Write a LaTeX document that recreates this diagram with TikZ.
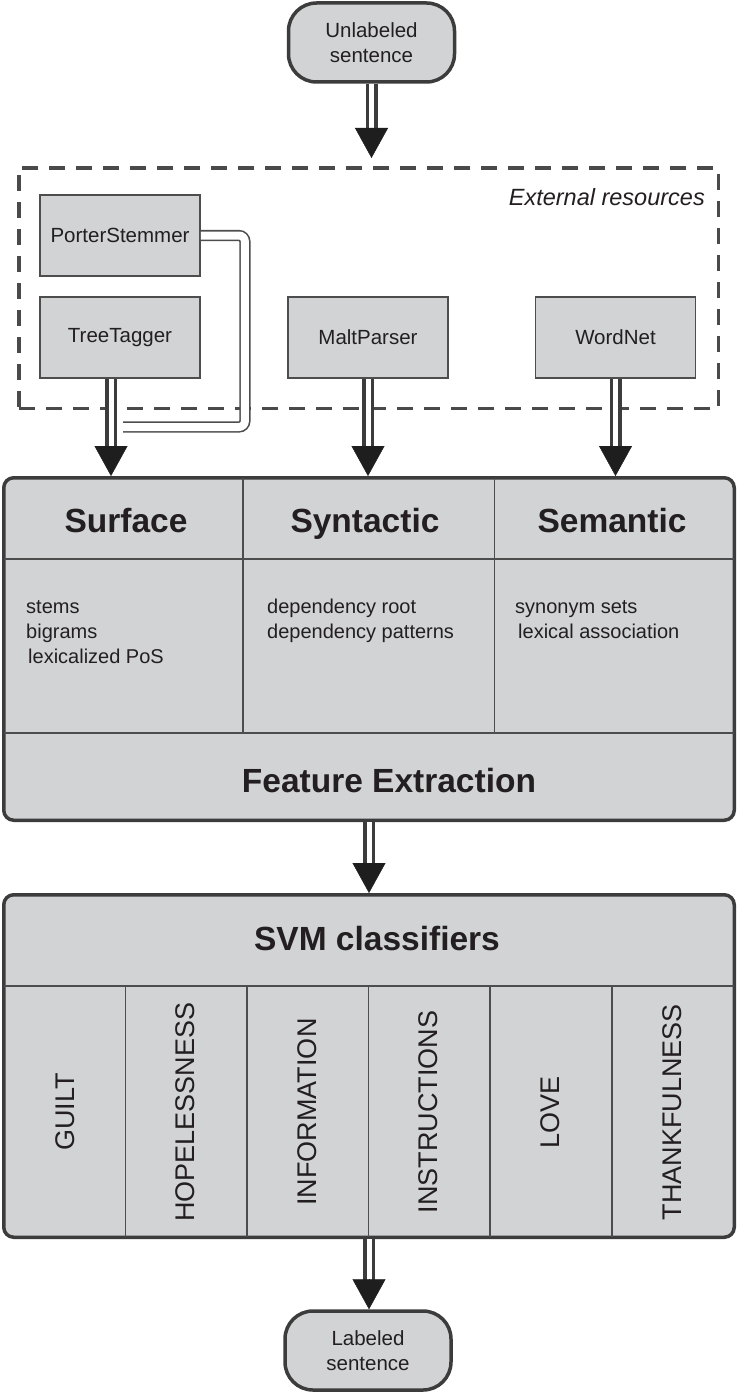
\documentclass[tikz,border=0pt]{standalone}
\usepackage{fontspec}
\setmainfont{Liberation Sans}
\usetikzlibrary{arrows.meta,calc}
\definecolor{boxfill}{HTML}{D1D3D4}
\definecolor{linec}{HTML}{3C3C3C}
\definecolor{thinc}{HTML}{4D4D4D}
\definecolor{txt}{HTML}{231F20}
\definecolor{tipc}{HTML}{1E1E1E}
\definecolor{dashc}{HTML}{4A4A4A}
\newcommand\fsz[2]{\fontsize{#1}{#2}\selectfont}
\tikzset{
  term/.style={draw=linec, line width=3.5pt, fill=boxfill, rounded corners=28pt,
    minimum width=166pt, minimum height=79pt, align=center, text=txt,
    font=\fsz{20.5}{24.5}, inner sep=0pt},
  res/.style={draw=thinc, line width=1.8pt, fill=boxfill, minimum width=160pt,
    minimum height=81pt, text=txt, font=\fsz{20.5}{24}, inner sep=0pt},
  big/.style={draw=linec, line width=3.5pt, fill=boxfill, rounded corners=10pt,
    minimum width=730.5pt, minimum height=342.5pt, inner sep=0pt},
  extbox/.style={draw=dashc, line width=3.5pt, dash pattern=on 16pt off 11pt,
    minimum width=699.5pt, minimum height=240.5pt, inner sep=0pt},
  div/.style={draw=thinc, line width=1.6pt},
  head/.style={font=\bfseries\fsz{33.5}{40}, text=txt, inner sep=0pt, anchor=base},
  item/.style={font=\fsz{20}{24}, text=txt, inner sep=0pt, anchor=base west},
  cls/.style={font=\fsz{27}{32}, text=txt, inner sep=0pt, rotate=90},
  dbl/.style={draw=linec, line width=3.5pt, double=white, double distance=5pt,
    shorten >=28pt},
  tipst/.style={-{Triangle[width=33pt,length=30pt]}, line width=0.4pt, draw=tipc,
    fill=tipc},
  pline/.style={draw=thinc, line width=1.6pt, double=white, double distance=8pt,
    rounded corners=6pt},
}
\begin{document}
\begin{tikzpicture}[x=1pt,y=-1pt]
\useasboundingbox[fill=white] (0,0) rectangle (738,1394);

% external resources dashed box
\node[extbox] (ext) at (368.5,288) {};
\node[font=\itshape\fsz{23.5}{28}, text=txt, inner sep=0pt, anchor=base east]
  (extlbl) at (705,205) {External resources};

% terminals
\node[term] (us) at (371.5,42.5) {Unlabeled\\sentence};
\node[term] (lab) at (368,1350.5) {Labeled\\sentence};

% resources
\node[res] (ps) at (120,235.5) {PorterStemmer};
\node[res] (tt) at (120,337.5) {TreeTagger};
\node[res] (mp) at (368,337.5) {MaltParser};
\node[res] (wn) at (615.5,337.5) {WordNet};

% feature extraction box
\node[big] (fe) at (369,649) {};
\draw[div] (4,559) -- (734,559);
\draw[div] (4,733) -- (734,733);
\draw[div] (243,478) -- (243,733);
\draw[div] (494.6,478) -- (494.6,733);
\node[head] (hsurf) at (126,532) {Surface};
\node[head] (hsyn) at (365,532) {Syntactic};
\node[head] (hsem) at (612,532) {Semantic};
\node[item] (i1) at (26,613) {stems};
\node[item] (i2) at (26,638) {bigrams};
\node[item] (i3) at (28,663) {lexicalized PoS};
\node[item] (i4) at (267,613) {dependency root};
\node[item] (i5) at (267,638) {dependency patterns};
\node[item] (i6) at (515,613) {synonym sets};
\node[item] (i7) at (518,638) {lexical association};
\node[head] (hfe) at (389,792) {Feature Extraction};

% SVM box
\node[big] (sv) at (369,1066) {};
\draw[div] (4,986) -- (734,986);
\foreach \xx in {125.6,247,368.5,490,612} {
  \draw[div] (\xx,986) -- (\xx,1237);
}
\node[head] (hsv) at (377,950) {SVM classifiers};
\node[cls] (c1) at (65,1112) {GUILT};
\node[cls] (c2) at (185,1112) {HOPELESSNESS};
\node[cls] (c3) at (307,1112) {INFORMATION};
\node[cls] (c4) at (428,1112) {INSTRUCTIONS};
\node[cls] (c5) at (550,1112) {LOVE};
\node[cls] (c6) at (672,1112) {THANKFULNESS};

% helper coordinates
\coordinate (extTop) at ([yshift=8pt]ext.north);
\coordinate (ta) at ([xshift=-9pt]tt.south);
\coordinate (tr) at ([xshift=6pt]tt.south);
\coordinate (jy) at (0,427);
\coordinate (join) at ([xshift=-3pt]tr |- jy);

% PorterStemmer connector
\draw[pline] (ps.east) -- ++(44,0) |- (join);

% arrows
\draw[dbl] (us.south) -- (us.south |- extTop);
\draw[tipst] ([yshift=30pt]us.south |- extTop) -- (us.south |- extTop);

\draw[dbl] (ta) -- (ta |- fe.north);
\draw[tipst] ([yshift=30pt]ta |- fe.north) -- (ta |- fe.north);

\draw[dbl] (mp.south) -- (mp.south |- fe.north);
\draw[tipst] ([yshift=30pt]mp.south |- fe.north) -- (mp.south |- fe.north);

\draw[dbl] (wn.south) -- (wn.south |- fe.north);
\draw[tipst] ([yshift=30pt]wn.south |- fe.north) -- (wn.south |- fe.north);

\draw[dbl] (fe.south) -- (fe.south |- sv.north);
\draw[tipst] ([yshift=30pt]fe.south |- sv.north) -- (fe.south |- sv.north);

\draw[dbl] (sv.south) -- (sv.south |- lab.north);
\draw[tipst] ([yshift=30pt]sv.south |- lab.north) -- (sv.south |- lab.north);
\end{tikzpicture}
\end{document}
